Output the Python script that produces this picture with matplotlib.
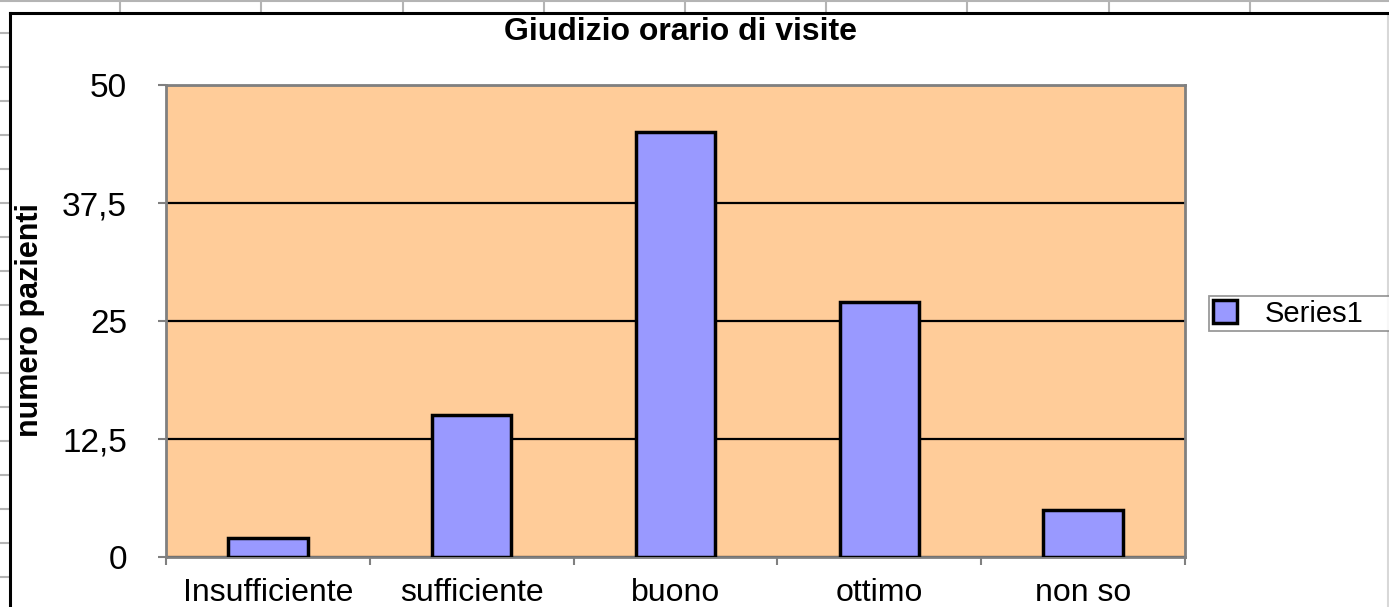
import matplotlib
matplotlib.use("Agg")
import matplotlib.pyplot as plt
from matplotlib.lines import Line2D
import numpy as np

plt.rcParams['font.family'] = ['Liberation Sans', 'DejaVu Sans']

# data
categories = ['Insufficiente', 'sufficiente', 'buono', 'ottimo', 'non so']
values = [2, 15, 45, 27, 5]
yticks = [0, 12.5, 25, 37.5, 50]
ytick_labels = ['0', '12,5', '25', '37,5', '50']
series_name = 'Series1'

W, H = 1389, 607
fig = plt.figure(figsize=(W / 100, H / 100), dpi=100)
fig.patch.set_facecolor('white')

# spreadsheet cell lines peeking around the chart object
sheet_grey = '#b4b4b4'
for xp in [120, 261, 403, 544, 685, 826, 967, 1109, 1250]:
    fig.add_artist(Line2D([xp / W, xp / W], [1, 1 - 12 / H], color=sheet_grey, lw=1.5))
fig.add_artist(Line2D([0, 1], [1 - 1 / H, 1 - 1 / H], color=sheet_grey, lw=1.5))
for yp in range(33, 607, 34):
    fig.add_artist(Line2D([0, 8 / W], [1 - yp / H, 1 - yp / H], color=sheet_grey, lw=1.5))
fig.add_artist(Line2D([1388 / W, 1388 / W], [0, 1 - 14 / H], color='#d8d8d8', lw=1.5))

# chart object frame
fig.add_artist(Line2D([9.5 / W, 9.5 / W], [0, 1 - 13 / H], color='black', lw=2.2))
fig.add_artist(Line2D([9.5 / W, 1], [1 - 13 / H, 1 - 13 / H], color='black', lw=2.2))

ax = fig.add_axes([166 / W, 50 / H, (1185 - 166) / W, (557 - 85) / H])
ax.set_facecolor('#FFCC99')

x = np.arange(len(categories))
bars = ax.bar(x, values, width=0.39, color='#9999FF', edgecolor='black', linewidth=2.5,
              zorder=3, label=series_name)

ax.set_xlim(-0.5, len(categories) - 0.5)
ax.set_ylim(0, 50)

ax.set_yticks(yticks)
ax.set_yticklabels(ytick_labels, fontsize=24)
ax.grid(axis='y', color='black', linewidth=1.6, zorder=1)
ax.set_axisbelow(True)

ax.set_xticks(x)
ax.set_xticklabels(categories, fontsize=23)
ax.set_xticks(np.arange(len(categories) + 1) - 0.5, minor=True)
ax.tick_params(axis='x', which='major', length=0, pad=15)
ax.tick_params(axis='x', which='minor', length=6, width=1.5, color='#808080', direction='out')
ax.tick_params(axis='y', which='major', length=6, width=1.5, color='#808080', direction='out', pad=22)

for s in ax.spines.values():
    s.set_color('#808080')
    s.set_linewidth(2)

fig.text(30 / W, 1 - 320 / H, 'numero pazienti', fontsize=22, fontweight='bold',
         rotation=90, ha='center', va='center')

fig.text(680 / W, 1 - 32 / H, 'Giudizio orario di visite', fontsize=23, fontweight='bold',
         ha='center', va='center')

# legend box runs off the right edge of the picture
leg = fig.legend(handles=[bars], labels=[series_name], loc='upper left', mode='expand',
                 bbox_to_anchor=(1209 / W, 1 - 328 / H, (1420 - 1209) / W, 32 / H),
                 fontsize=21, frameon=True, fancybox=False, borderpad=0.12,
                 handlelength=0.85, handleheight=0.85, handletextpad=0.95, borderaxespad=0)
leg.get_frame().set_edgecolor('#808080')
leg.get_frame().set_linewidth(1.3)

fig.savefig('out.png', dpi=100, facecolor='white')
